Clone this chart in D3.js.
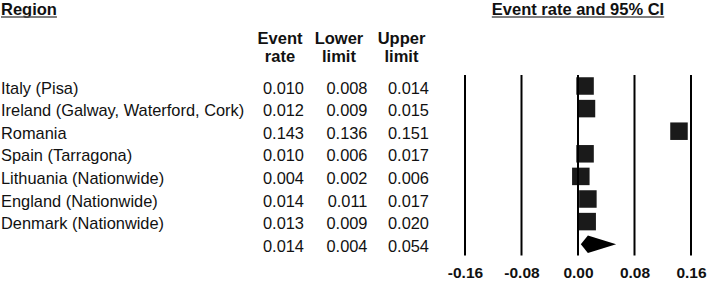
<!DOCTYPE html>
<html>
<head>
<meta charset="utf-8">
<script src="https://cdn.jsdelivr.net/npm/d3@7"></script>
<style>
  html, body { margin: 0; padding: 0; background: #fff; }
  svg { display: block; font-family: Arial, "Liberation Sans", sans-serif; }
</style>
</head>
<body>
<svg id="chart" width="708" height="281"></svg>
<script>
// ---- data ----
const regions = [
  "Italy (Pisa)",
  "Ireland (Galway, Waterford, Cork)",
  "Romania",
  "Spain (Tarragona)",
  "Lithuania (Nationwide)",
  "England (Nationwide)",
  "Denmark (Nationwide)"
];
const eventRate  = [0.010, 0.012, 0.143, 0.010, 0.004, 0.014, 0.013];
const lowerLimit = [0.008, 0.009, 0.136, 0.006, 0.002, 0.011, 0.009];
const upperLimit = [0.014, 0.015, 0.151, 0.017, 0.006, 0.017, 0.020];
const summaryValues = [0.014, 0.004, 0.054]; // event rate, lower, upper
const tickValues = [-0.16, -0.08, 0.00, 0.08, 0.16];
const tickLabels = ["-0.16", "-0.08", "0.00", "0.08", "0.16"];
const columnHeaders = [["Event", "rate"], ["Lower", "limit"], ["Upper", "limit"]];

// ---- layout ----
const svg = d3.select("#chart");
const ink = "#111";
const nRows = regions.length + 1;
const y = d3.scaleLinear().domain([0, nRows - 1]).range([86, 244.2]);
const x = d3.scaleLinear().domain([-0.16, 0.16]).range([465, 691]);
const colX = [304, 367.5, 429];
const headX = [280, 339, 401.5];
const baseOff = 7.5;
const bodySize = 16.4;

// Title headers (bold, underlined)
function underlinedText(tx, ty, str, anchor) {
  const t = svg.append("text")
    .attr("x", tx).attr("y", ty)
    .attr("text-anchor", anchor)
    .attr("font-size", 16.5).attr("font-weight", "bold")
    .attr("fill", ink).text(str);
  const bb = t.node().getBBox();
  svg.append("line")
    .attr("x1", bb.x).attr("x2", bb.x + bb.width)
    .attr("y1", ty + 2).attr("y2", ty + 2)
    .attr("stroke", "#555").attr("stroke-width", 1.3);
}
underlinedText(1, 15, "Region", "start");
underlinedText(x(0), 15, "Event rate and 95% CI", "middle");

// Column headers
columnHeaders.forEach((h, i) => {
  h.forEach((line, j) => {
    svg.append("text")
      .attr("x", headX[i]).attr("y", 43.5 + j * 18)
      .attr("text-anchor", "middle")
      .attr("font-size", 16.5).attr("font-weight", "bold")
      .attr("fill", ink).text(line);
  });
});

// Rows: labels and values
const fmt = d3.format(".3f");
const rows = regions.map((r, i) => ({ r, e: eventRate[i], lo: lowerLimit[i], hi: upperLimit[i], i }));
const rowG = svg.append("g").selectAll("g").data(rows).join("g");
rowG.append("text")
  .attr("x", 1).attr("y", d => y(d.i) + baseOff)
  .attr("font-size", bodySize).attr("fill", ink).text(d => d.r);
[["e", 0], ["lo", 1], ["hi", 2]].forEach(([k, c]) => {
  rowG.append("text")
    .attr("x", colX[c]).attr("y", d => y(d.i) + baseOff)
    .attr("text-anchor", "end")
    .attr("font-size", bodySize).attr("fill", ink).text(d => fmt(d[k]));
});
// summary values
summaryValues.forEach((v, c) => {
  svg.append("text")
    .attr("x", colX[c]).attr("y", y(nRows - 1) + baseOff)
    .attr("text-anchor", "end")
    .attr("font-size", bodySize).attr("fill", ink).text(fmt(v));
});

// Grid lines
svg.append("g").selectAll("line").data(tickValues).join("line")
  .attr("x1", d => x(d)).attr("x2", d => x(d))
  .attr("y1", 75).attr("y2", 255.5)
  .attr("stroke", "#000").attr("stroke-width", 2);

// Axis tick labels
const axis = d3.axisBottom(x).tickValues(tickValues)
  .tickSize(0).tickPadding(0)
  .tickFormat((d, i) => tickLabels[i]);
const axG = svg.append("g").attr("transform", "translate(0,266)").call(axis);
axG.select(".domain").remove();
axG.selectAll("text")
  .attr("font-size", 15.5).attr("font-weight", "bold")
  .attr("font-family", "Arial, 'Liberation Sans', sans-serif")
  .attr("fill", ink).attr("dy", "0.8em");

// CI whiskers and squares
const sq = 17.5;
rowG.append("line")
  .attr("x1", d => x(d.lo)).attr("x2", d => x(d.hi))
  .attr("y1", d => y(d.i)).attr("y2", d => y(d.i))
  .attr("stroke", "#000").attr("stroke-width", 1);
rowG.append("rect")
  .attr("x", d => x(d.e) - sq / 2).attr("y", d => y(d.i) - sq / 2)
  .attr("width", sq).attr("height", sq)
  .attr("fill", "#1a1a1a");

// Summary diamond
const yc = y(nRows - 1), hh = 8.8;
const [se, slo, shi] = summaryValues;
svg.append("path")
  .attr("d", `M${x(slo)},${yc} L${x(se)},${yc - hh} L${x(shi)},${yc} L${x(se)},${yc + hh} Z`)
  .attr("fill", "#000");
</script>
</body>
</html>
